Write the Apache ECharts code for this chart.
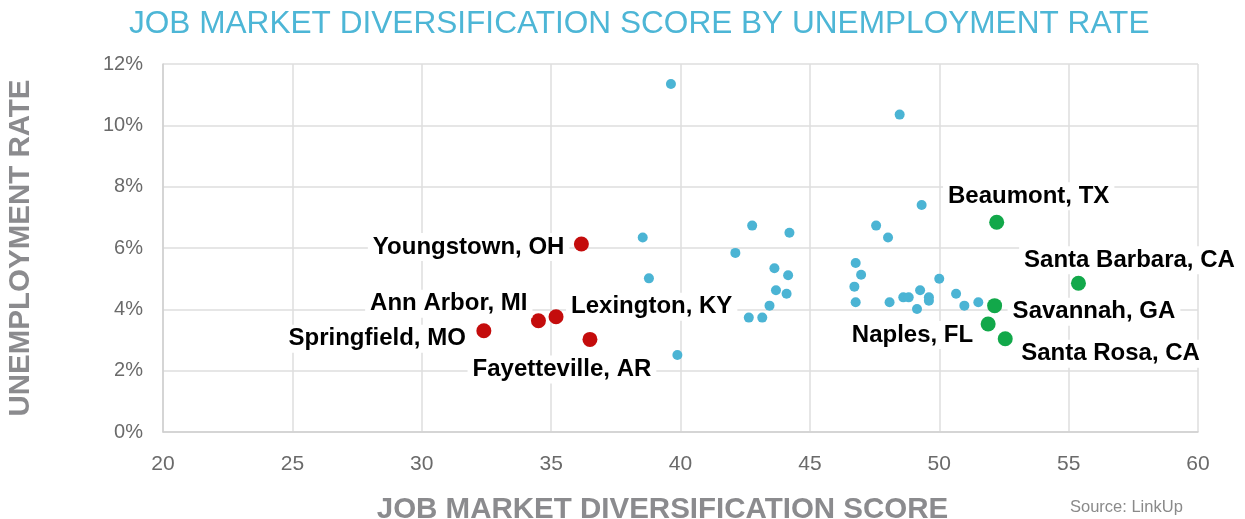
<!DOCTYPE html>
<html>
<head>
<meta charset="utf-8">
<script src="https://cdn.jsdelivr.net/npm/echarts@6/dist/echarts.min.js"></script>
<style>
  html, body { margin: 0; padding: 0; background: #fff; }
  #chart { width: 1245px; height: 519px; }
</style>
</head>
<body>
<div id="chart"></div>
<script>
// other metros (blue)
const otherScores = [39.63, 48.47, 49.32, 42.77, 44.21, 47.56, 48.02, 42.12, 46.77, 46.98, 43.63,
  44.16, 38.78, 50.00, 46.72, 43.69, 44.10, 50.65, 46.77, 48.08, 48.61, 48.82, 49.26, 49.60,
  49.60, 49.14, 50.97, 51.51, 43.44, 42.64, 43.16, 39.88, 38.54];
const otherRates = [11.35, 10.35, 7.40, 6.73, 6.50, 6.73, 6.34, 5.84, 5.51, 5.13, 5.34,
  5.11, 5.01, 5.00, 4.74, 4.62, 4.51, 4.51, 4.23, 4.23, 4.39, 4.39, 4.62, 4.39,
  4.28, 4.01, 4.12, 4.23, 4.12, 3.73, 3.73, 2.51, 6.34];

// least diversified (red)
const lowNames = ['Youngstown, OH', 'Ann Arbor, MI', 'Lexington, KY', 'Springfield, MO', 'Fayetteville, AR'];
const lowScores = [36.17, 34.51, 35.19, 32.40, 36.50];
const lowRates = [6.13, 3.63, 3.76, 3.30, 3.02];

// most diversified (green)
const highNames = ['Beaumont, TX', 'Santa Barbara, CA', 'Savannah, GA', 'Naples, FL', 'Santa Rosa, CA'];
const highScores = [52.22, 55.38, 52.14, 51.89, 52.55];
const highRates = [6.84, 4.85, 4.12, 3.52, 3.04];

const xTicks = [20, 25, 30, 35, 40, 45, 50, 55, 60];
const yTicks = [0, 2, 4, 6, 8, 10, 12];

// label placement: text align, dx, dy from the dot centre
const labelSpots = {
  'Youngstown, OH': ['right', -12, 3],
  'Ann Arbor, MI': ['right', -6, -17],
  'Lexington, KY': ['left', 10, -10],
  'Springfield, MO': ['right', -13, 8],
  'Fayetteville, AR': ['center', -28, 30],
  'Beaumont, TX': ['center', 32, -26],
  'Santa Barbara, CA': ['center', 51, -23],
  'Savannah, GA': ['left', 13, 6],
  'Naples, FL': ['right', -10, 11],
  'Santa Rosa, CA': ['left', 11, 15]
};

const bigDot = 15;

function namedPoints(names, xs, ys) {
  return names.map((n, i) => {
    const s = labelSpots[n];
    return {
      name: n,
      value: [xs[i], ys[i]],
      label: {
        show: true,
        formatter: '{b}',
        position: [bigDot / 2 + s[1], bigDot / 2 + s[2]],
        align: s[0],
        verticalAlign: 'middle',
        color: '#000',
        fontFamily: 'Liberation Sans, Arial, sans-serif',
        fontWeight: 'bold',
        fontSize: 24,
        backgroundColor: '#fff',
        padding: [2, 5, 2, 5]
      }
    };
  });
}

const chart = echarts.init(document.getElementById('chart'));
const gray = '#8b8b8e';

const option = {
  animation: false,
  title: {
    text: 'JOB MARKET DIVERSIFICATION SCORE BY UNEMPLOYMENT RATE',
    left: 124,
    top: 3,
    textStyle: {
      color: '#4db6d6',
      fontFamily: 'Liberation Sans, Arial, sans-serif',
      fontWeight: 'normal',
      fontSize: 31.6
    }
  },
  grid: { left: 163, right: 47, top: 64, bottom: 87, containLabel: false, outerBoundsMode: 'none' },
  xAxis: {
    type: 'value',
    min: xTicks[0],
    max: xTicks[xTicks.length - 1],
    interval: 5,
    name: 'JOB MARKET DIVERSIFICATION SCORE',
    nameLocation: 'middle',
    nameGap: 63,
    nameTextStyle: {
      color: gray,
      fontFamily: 'Liberation Sans, Arial, sans-serif',
      fontWeight: 'bold',
      fontSize: 29.5,
      padding: [0, 36, 0, 0]
    },
    axisLine: { lineStyle: { color: '#cfcfcf', width: 1.5 } },
    axisTick: { show: false },
    axisLabel: {
      margin: 22,
      color: '#6a6a6a',
      fontFamily: 'Liberation Sans Narrow, Liberation Sans, sans-serif',
      fontSize: 21
    },
    splitLine: { lineStyle: { color: '#dedede', width: 1.5 } }
  },
  yAxis: {
    type: 'value',
    min: yTicks[0],
    max: yTicks[yTicks.length - 1],
    interval: 2,
    name: 'UNEMPLOYMENT RATE',
    nameLocation: 'middle',
    nameGap: 127,
    nameTextStyle: {
      color: gray,
      fontFamily: 'Liberation Sans, Arial, sans-serif',
      fontWeight: 'bold',
      fontSize: 29.5
    },
    axisLine: { show: true, lineStyle: { color: '#cfcfcf', width: 1.5 } },
    axisTick: { show: false },
    axisLabel: {
      margin: 20,
      color: '#6a6a6a',
      fontFamily: 'Liberation Sans, Arial, sans-serif',
      fontSize: 20,
      formatter: '{value}%'
    },
    splitLine: { lineStyle: { color: '#dedede', width: 1.5 } }
  },
  graphic: [{
    type: 'text',
    left: 1070,
    top: 499,
    style: {
      text: 'Source: LinkUp',
      fill: '#8a8a8a',
      font: '16.5px Liberation Sans, Arial, sans-serif'
    }
  }],
  series: [
    {
      name: 'Other metros',
      type: 'scatter',
      symbolSize: 10,
      itemStyle: { color: '#4bb4d4', opacity: 1 },
      data: otherScores.map((x, i) => [x, otherRates[i]]),
      z: 2
    },
    {
      name: 'Least diversified',
      type: 'scatter',
      symbolSize: bigDot,
      itemStyle: { color: '#c40c0c', opacity: 1 },
      data: namedPoints(lowNames, lowScores, lowRates),
      z: 3
    },
    {
      name: 'Most diversified',
      type: 'scatter',
      symbolSize: bigDot,
      itemStyle: { color: '#12a84a', opacity: 1 },
      data: namedPoints(highNames, highScores, highRates),
      z: 3
    }
  ]
};

chart.setOption(option);
window.addEventListener('resize', function () {
  chart.resize();
});
</script>
</body>
</html>
